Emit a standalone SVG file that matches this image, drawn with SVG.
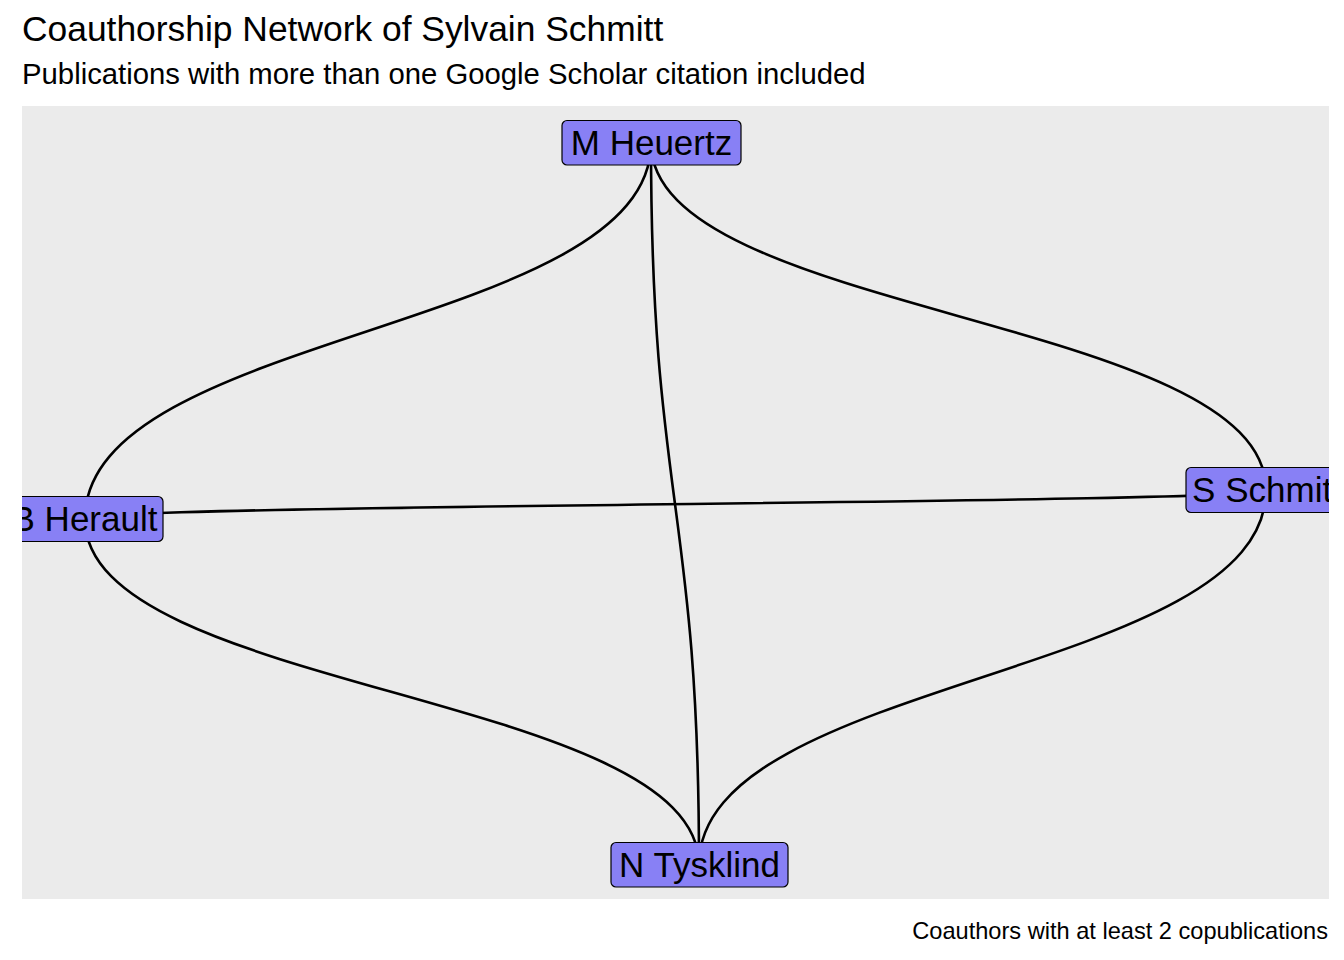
<svg xmlns="http://www.w3.org/2000/svg" width="1344" height="960" viewBox="0 0 1344 960">
<style>
text{font-family:"Liberation Sans",Arial,sans-serif;fill:#000}
.edge{fill:none;stroke:#000;stroke-width:2.6}
.box{fill:#8880F5;stroke:#000;stroke-width:1.2}
.lbl{font-size:35px;text-anchor:middle}
</style>
<defs><clipPath id="panel"><rect x="22" y="106" width="1307" height="793"/></clipPath></defs>
<rect width="1344" height="960" fill="#fff"/>
<text x="22" y="41" font-size="35.4">Coauthorship Network of Sylvain Schmitt</text>
<text x="22" y="83.5" font-size="29.3">Publications with more than one Google Scholar citation included</text>
<rect x="22" y="106" width="1307" height="793" fill="#EBEBEB"/>
<g clip-path="url(#panel)">
<g id="edges">
<path class="edge" d="M651,143 C651,331 85,331 85,519"/>
<path class="edge" d="M651,143 C651,316 1266,316 1266,490"/>
<path class="edge" d="M651,143 C651,504 699,504 699,865"/>
<path class="edge" d="M85,519 C85,504 1266,504 1266,490"/>
<path class="edge" d="M85,519 C85,692 699,692 699,865"/>
<path class="edge" d="M1266,490 C1266,677 699,677 699,865"/>
</g>
<g id="n-heuertz"><rect class="box" x="562" y="120.5" width="179" height="44.5" rx="5"/><text class="lbl" x="651.5" y="154.5">M Heuertz</text></g>
<g id="n-herault"><rect class="box" x="6" y="496.5" width="157" height="45" rx="5"/><text class="lbl" x="84.5" y="530.5">B Herault</text></g>
<g id="n-schmitt"><rect class="box" x="1186" y="467.5" width="162" height="45" rx="5"/><text class="lbl" x="1267" y="501.5">S Schmitt</text></g>
<g id="n-tysklind"><rect class="box" x="611" y="842.5" width="177" height="44.5" rx="5"/><text class="lbl" x="699.5" y="876.5">N Tysklind</text></g>
</g>
<text x="1328" y="939" font-size="23.6" text-anchor="end">Coauthors with at least 2 copublications</text>
</svg>
